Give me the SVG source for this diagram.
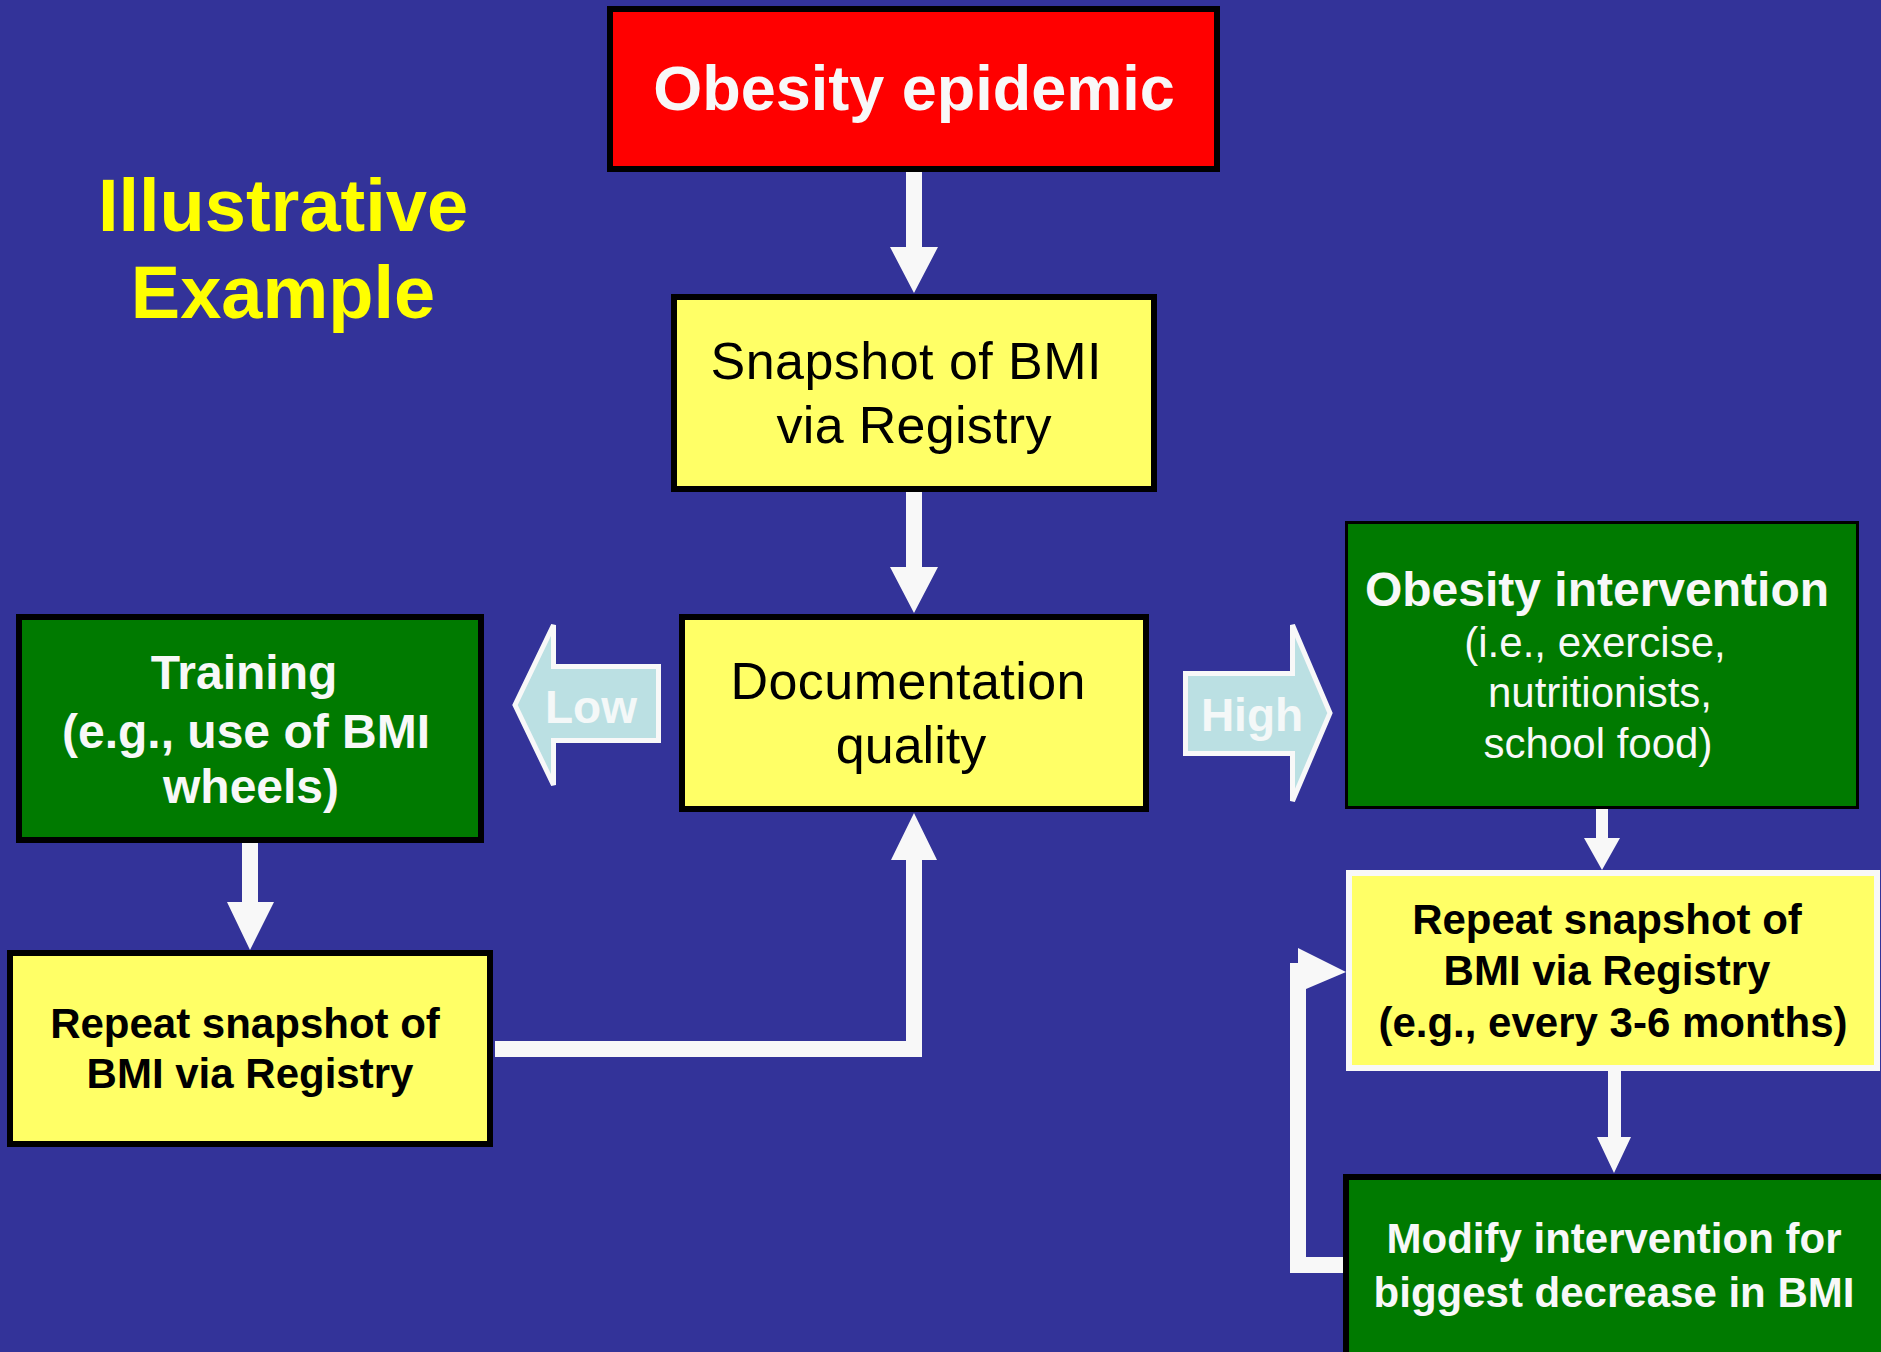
<svg xmlns="http://www.w3.org/2000/svg" width="1881" height="1352" viewBox="0 0 1881 1352">
<defs>
<style>
text{font-family:"Liberation Sans",Arial,sans-serif;text-anchor:middle}
.b{font-weight:bold}
.w{fill:#f8f8f8}
.k{fill:#000}
.y{fill:#ffff00}
.box{stroke:#000;stroke-width:6}
.yel{fill:#ffff66}
.grn{fill:#007a00}
.arr{fill:#f8f8f8}
.big{fill:#bbe0e3;stroke:#f8f8f8;stroke-width:5}
</style>
</defs>
<rect x="0" y="0" width="1881" height="1352" fill="#333399"/>

<g id="title">
<text class="b y" x="283" y="231" font-size="74">Illustrative</text>
<text class="b y" x="283" y="318" font-size="74">Example</text>
</g>

<g id="connectors">
<polygon class="arr" points="906,172 922,172 922,247 938,247 914,293 890,247 906,247"/>
<polygon class="arr" points="906,492 922,492 922,567 938,567 914,613 890,567 906,567"/>
<polygon class="arr" points="242,843 258,843 258,902 274,902 250,950 227,902 242,902"/>
<polygon class="arr" points="495,1041 906,1041 906,860 891,860 914,813 937,860 922,860 922,1057 495,1057"/>
<polygon class="arr" points="1596,809 1608,809 1608,838 1620,838 1602,870 1584,838 1596,838"/>
<polygon class="arr" points="1608,1071 1621,1071 1621,1137 1631,1137 1614,1173 1597,1137 1608,1137"/>
<polygon class="arr" points="1290,1273 1343,1273 1343,1257 1306,1257 1306,989 1346,972 1298,948 1298,963 1290,963"/>
<g id="low">
<path class="big" d="M658.5,666.5 L553.5,666.5 L553.5,625 L515,705 L553.5,785 L553.5,740.5 L658.5,740.5 Z"/>
<text class="b" x="591" y="723" font-size="46" fill="#f4f8f8">Low</text>
</g>
<g id="high">
<path class="big" d="M1185.5,673.5 L1292.5,673.5 L1292.5,625 L1330,713 L1292.5,801 L1292.5,753.5 L1185.5,753.5 Z"/>
<text class="b" x="1252" y="731" font-size="46" fill="#f4f8f8">High</text>
</g>
</g>

<g id="obesity-epidemic">
<rect class="box" x="610" y="9" width="607" height="160" fill="#ff0000"/>
<text class="b w" x="914" y="110" font-size="63">Obesity epidemic</text>
</g>

<g id="snapshot">
<rect class="box yel" x="674" y="297" width="480" height="192"/>
<text class="k" x="906" y="379" font-size="52" textLength="391" lengthAdjust="spacing">Snapshot of BMI</text>
<text class="k" x="914" y="443" font-size="52" textLength="275" lengthAdjust="spacing">via Registry</text>
</g>

<g id="documentation">
<rect class="box yel" x="682" y="617" width="464" height="192"/>
<text class="k" x="908" y="699" font-size="52" textLength="355" lengthAdjust="spacing">Documentation</text>
<text class="k" x="911" y="763" font-size="52">quality</text>
</g>

<g id="training">
<rect class="box grn" x="19" y="617" width="462" height="223"/>
<text class="b w" x="244" y="689" font-size="48">Training</text>
<text class="b w" x="246" y="748" font-size="48">(e.g., use of BMI</text>
<text class="b w" x="251" y="803" font-size="48">wheels)</text>
</g>

<g id="repeat-left">
<rect class="box yel" x="10" y="953" width="480" height="191"/>
<text class="b k" x="245" y="1038" font-size="42">Repeat snapshot of</text>
<text class="b k" x="250" y="1088" font-size="42">BMI via Registry</text>
</g>

<g id="intervention">
<rect class="grn" x="1346.5" y="522.5" width="511" height="285" stroke="#000" stroke-width="3"/>
<text class="b w" x="1597" y="606" font-size="48">Obesity intervention</text>
<text class="w" x="1595" y="657" font-size="42">(i.e., exercise,</text>
<text class="w" x="1600" y="707" font-size="42">nutritionists,</text>
<text class="w" x="1598" y="758" font-size="42">school food)</text>
</g>

<g id="repeat-right">
<rect class="yel" x="1349" y="873" width="528" height="195" stroke="#f8f8f8" stroke-width="6"/>
<text class="b k" x="1607" y="934" font-size="42">Repeat snapshot of</text>
<text class="b k" x="1607" y="985" font-size="42">BMI via Registry</text>
<text class="b k" x="1613" y="1037" font-size="42">(e.g., every 3-6 months)</text>
</g>

<g id="modify">
<rect class="box grn" x="1346" y="1177" width="540" height="200"/>
<text class="b w" x="1614" y="1253" font-size="42">Modify intervention for</text>
<text class="b w" x="1614" y="1307" font-size="42">biggest decrease in BMI</text>
</g>
</svg>
